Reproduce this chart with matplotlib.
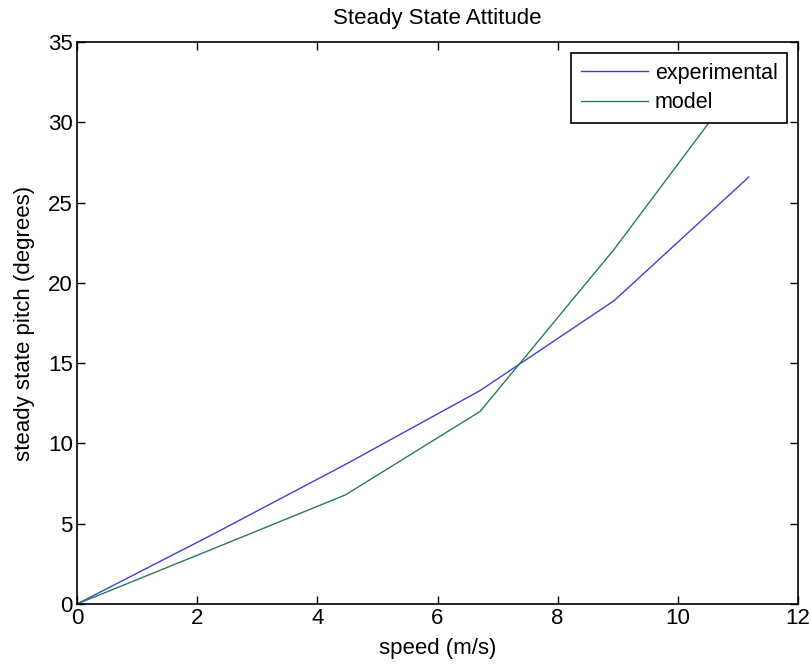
import matplotlib
matplotlib.use("Agg")
import matplotlib.pyplot as plt

plt.rcParams['font.family'] = ['Liberation Sans', 'DejaVu Sans']

# data
speed = [0, 2.24, 4.47, 6.71, 8.94, 11.18]
experimental = [0, 4.3, 8.7, 13.3, 18.9, 26.6]
model = [0, 3.4, 6.8, 12.0, 22.1, 33.3]

fig = plt.figure(figsize=(8.12, 6.68), dpi=100)
ax = fig.add_axes([0.0948, 0.0958, 0.888, 0.841])

ax.plot(speed, experimental, color='#4040d4', linewidth=1.0, label='experimental')
ax.plot(speed, model, color='#2a7a55', linewidth=1.0, label='model')

ax.set_xlim(0, 12)
ax.set_ylim(0, 35)
ax.set_xticks(range(0, 13, 2))
ax.set_yticks(range(0, 36, 5))
ax.tick_params(direction='in', top=True, right=True, length=6, width=1,
               labelsize=16, pad=3)
for sp in ax.spines.values():
    sp.set_linewidth(1.2)

ax.set_title('Steady State Attitude', fontsize=16, pad=13)
ax.set_xlabel('speed (m/s)', fontsize=16, labelpad=6)
ax.set_ylabel('steady state pitch (degrees)', fontsize=16, labelpad=9)

leg = ax.legend(loc='upper right', fontsize=15.5, fancybox=False,
                framealpha=1, edgecolor='black', borderaxespad=0.5,
                handlelength=3.1, handletextpad=0.33, borderpad=0.45,
                labelspacing=0.4)
leg.get_frame().set_linewidth(1.2)

fig.savefig('out.png', dpi=100)
